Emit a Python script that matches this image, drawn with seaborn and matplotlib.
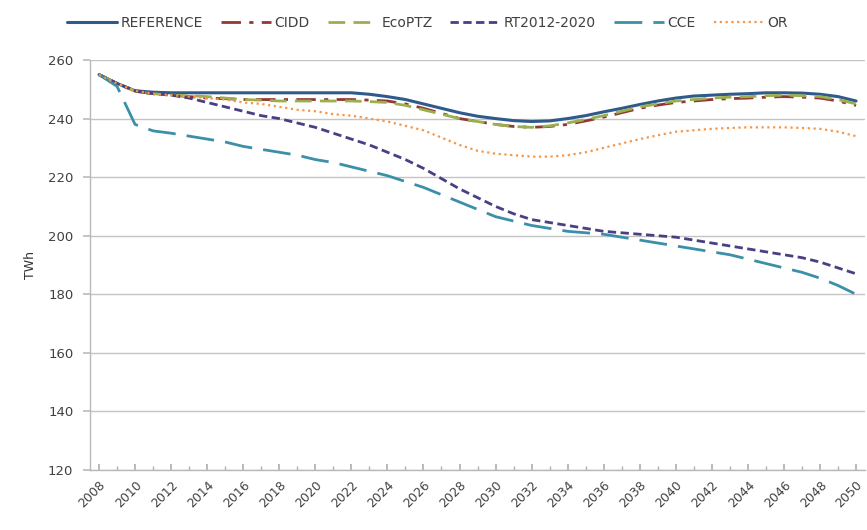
import numpy as np
import pandas as pd
import matplotlib
matplotlib.use("Agg")
import matplotlib.pyplot as plt
import seaborn as sns
from matplotlib.ticker import MultipleLocator

years = list(range(2008, 2051))

reference = [255, 252, 249.5, 249, 248.8, 248.8, 248.8, 248.8, 248.8, 248.8, 248.8, 248.8, 248.8, 248.8, 248.8,
             248.3, 247.5, 246.5, 245, 243.5, 242, 240.8, 240, 239.3, 239, 239.2, 240, 241, 242.3, 243.5, 244.8,
             246, 247, 247.7, 248, 248.3, 248.5, 248.8, 248.8, 248.7, 248.3, 247.5, 246]
cidd = [255, 252, 249.3, 248.5, 248, 247.5, 247, 246.8, 246.5, 246.5, 246.5, 246.5, 246.5, 246.5, 246.5,
        246.3, 246, 245, 243.5, 241.8, 240, 239, 238, 237.3, 237, 237.3, 238, 239.2, 240.5, 242, 243.5,
        244.6, 245.5, 246, 246.5, 246.8, 247, 247.3, 247.5, 247.3, 247, 246, 244.5]
ecoptz = [255, 252, 249.3, 248.5, 248, 247.8, 247.5, 247, 246.5, 246.3, 246, 246, 246, 246, 246,
          245.8, 245.5, 244.5, 243, 241.5, 240, 239, 238, 237.3, 237, 237.5, 238.5, 239.7, 241, 242.5, 244,
          245, 246, 246.5, 247, 247.3, 247.5, 247.8, 248, 247.8, 247.5, 246.5, 245]
rt2012 = [255, 252, 249.5, 248.5, 248, 247, 245.5, 244, 242.5, 241, 240, 238.5, 237, 235, 233,
          231, 228.5, 226, 223, 219.5, 216, 213, 210, 207.5, 205.5, 204.5, 203.5, 202.5, 201.5, 201, 200.5,
          200, 199.5, 198.5, 197.5, 196.5, 195.5, 194.5, 193.5, 192.5, 191, 189, 187]
cce = [255, 251, 238, 235.8, 235, 234, 233, 232, 230.5, 229.5, 228.5, 227.5, 226, 225, 223.5,
       222, 220.5, 218.5, 216.5, 214, 211.5, 209, 206.5, 205, 203.5, 202.5, 201.5, 201, 200.5, 199.5, 198.5,
       197.5, 196.5, 195.5, 194.5, 193.5, 192, 190.5, 189, 187.5, 185.5, 183, 180]
orr = [255, 252, 249.5, 248.5, 248, 247.5, 247, 246.5, 245.5, 245, 244, 243, 242.5, 241.5, 241,
       240, 239, 237.5, 236, 233.5, 231, 229, 228, 227.5, 227, 227, 227.5, 228.5, 230, 231.5, 233,
       234.3, 235.5, 236, 236.5, 236.8, 237, 237, 237, 236.8, 236.5, 235.5, 234]

series_names = ["REFERENCE", "CIDD", "EcoPTZ", "RT2012-2020", "CCE", "OR"]
series_values = [reference, cidd, ecoptz, rt2012, cce, orr]
colors = ["#2E5B8C", "#943634", "#9BAF4E", "#4A3F82", "#3C8FA8", "#F79646"]
styles = ["-", (0, (7, 3, 1.5, 3)), (0, (6, 3)), (0, (3, 1.6)), (0, (10, 4)), (0, (1, 1.6))]
widths = [2.2, 2.0, 2.0, 2.0, 2.0, 1.6]

x_tick_labels = [str(y) for y in range(2008, 2051, 2)]
y_ticks = [120, 140, 160, 180, 200, 220, 240, 260]

sns.set_theme(style="white")
plt.rcParams['font.family'] = ['DejaVu Sans']

fig = plt.figure(figsize=(8.67, 5.30), dpi=100)
ax = fig.add_axes([0.1038, 0.1132, 0.894, 0.7736])

for name, vals, c, ls, lw in zip(series_names, series_values, colors, styles, widths):
    sns.lineplot(x=years, y=vals, ax=ax, color=c, linestyle=ls, linewidth=lw, label=name)

ax.set_xlim(2007.5, 2050.5)
ax.set_ylim(120, 260)
ax.set_yticks(y_ticks)
ax.set_yticklabels([str(v) for v in y_ticks], fontsize=9.5, color="#404040")
ax.set_xticks(list(range(2008, 2051, 2)))
ax.set_xticklabels(x_tick_labels, rotation=45, fontsize=9, color="#404040", ha="right", rotation_mode="anchor")
ax.xaxis.set_minor_locator(MultipleLocator(1))
ax.tick_params(axis="x", which="both", bottom=True, direction="in", length=4, color="#B0B0B0", pad=6)
ax.tick_params(axis="x", which="minor", length=3)
ax.tick_params(axis="y", left=True, direction="out", length=5, color="#BEBEBE", pad=7)
ax.grid(axis="y", color="#C4C4C4", linewidth=1)
ax.set_axisbelow(True)
for s in ["top", "right"]:
    ax.spines[s].set_visible(False)
for s in ["left", "bottom"]:
    ax.spines[s].set_color("#B8B8B8")
    ax.spines[s].set_linewidth(1)
ax.set_xlabel("")
ax.set_ylabel("TWh", fontsize=9, color="#303030", labelpad=8)

handles, labels = ax.get_legend_handles_labels()
ax.get_legend().remove()
fig.legend(handles, labels, loc="center left", bbox_to_anchor=(67 / 867, 1 - 23 / 530), ncol=6, frameon=False,
           fontsize=10, handlelength=3.6, columnspacing=1.3, handletextpad=0.25, borderpad=0,
           borderaxespad=0, labelcolor="#404040")

fig.savefig("out.png", dpi=100)
